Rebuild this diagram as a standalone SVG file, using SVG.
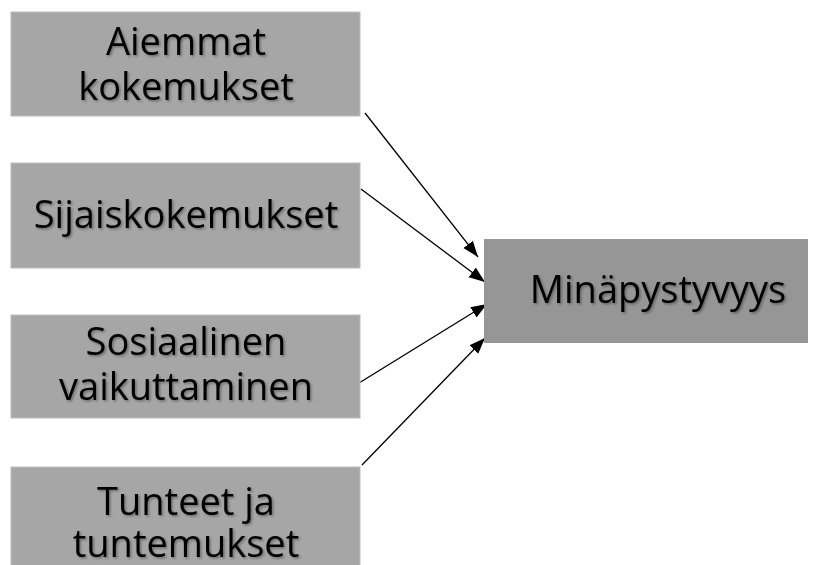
<svg xmlns="http://www.w3.org/2000/svg" width="819" height="565" viewBox="0 0 819 565">
<style>
.box{fill:#a6a6a6;stroke:#bdbdbd;stroke-width:1}
.main{fill:#969696}
.t{font-family:"Open Sans","Liberation Sans",sans-serif;font-size:38px;fill:#000;text-anchor:middle;filter:url(#sh)}
.c{stroke:#000;stroke-width:1.3;fill:none;marker-end:url(#ah)}
</style>
<defs>
<filter id="sh" x="-10%" y="-30%" width="120%" height="160%">
<feDropShadow dx="1.5" dy="1.5" stdDeviation="1" flood-color="#000" flood-opacity="0.35"/>
</filter>
<marker id="ah" markerUnits="userSpaceOnUse" markerWidth="18" markerHeight="14" refX="16" refY="6" orient="auto">
<path d="M0,0 L16,6 L0,12 Z" fill="#000"/>
</marker>
</defs>
<rect width="819" height="565" fill="#fff"/>
<g id="connectors">
<line class="c" x1="365" y1="113" x2="478" y2="257"/>
<line class="c" x1="361" y1="189" x2="485" y2="282"/>
<line class="c" x1="359" y1="383" x2="487" y2="304"/>
<line class="c" x1="362" y1="465" x2="485" y2="338"/>
</g>
<g id="n1"><rect class="box" x="11" y="12" width="349" height="104"/>
<text class="t" x="186" y="55">Aiemmat</text><text class="t" x="186" y="100">kokemukset</text></g>
<g id="n2"><rect class="box" x="11" y="163" width="349" height="105"/>
<text class="t" x="186" y="228">Sijaiskokemukset</text></g>
<g id="n3"><rect class="box" x="11" y="315" width="349" height="103"/>
<text class="t" x="186" y="355">Sosiaalinen</text><text class="t" x="186" y="400">vaikuttaminen</text></g>
<g id="n4"><rect class="box" x="11" y="467" width="349" height="110"/>
<text class="t" x="186" y="515">Tunteet ja</text><text class="t" x="186" y="557">tuntemukset</text></g>
<g id="n5"><rect class="main" x="484" y="239" width="324" height="104"/>
<text class="t" x="658" y="303">Minäpystyvyys</text></g>
</svg>
